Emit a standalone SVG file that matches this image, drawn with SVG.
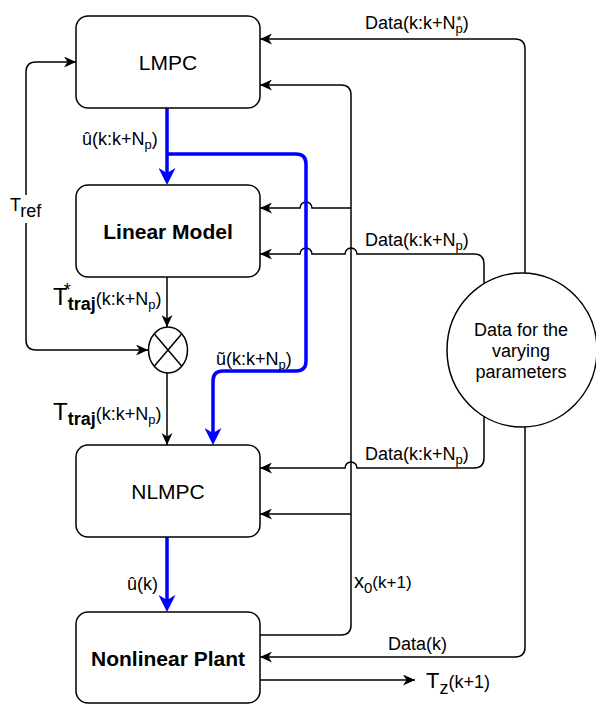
<svg xmlns="http://www.w3.org/2000/svg" width="596" height="704" viewBox="0 0 596 704">
<defs>
<style>
.box{fill:#fff;stroke:#000;stroke-width:1.5}
.ln{fill:none;stroke:#000;stroke-width:1.5}
.bl{fill:none;stroke:#0000ff;stroke-width:3.5}
text{font-family:"Liberation Sans",Arial,sans-serif;fill:#000;font-size:18px}
.nt{font-size:21px;text-anchor:middle}
.b{font-weight:bold}
.sub{font-size:13px}
.ct{font-size:18px;text-anchor:middle}
</style>
<marker id="ah" viewBox="0 0 12 11" refX="12" refY="5.5" markerWidth="12" markerHeight="11" markerUnits="userSpaceOnUse" orient="auto-start-reverse">
<path d="M0,0 L12,5.5 L0,11 L3.5,5.5 Z" fill="#000"/>
</marker>
<marker id="bh" viewBox="0 0 17 17" refX="11" refY="8.5" markerWidth="17" markerHeight="17" markerUnits="userSpaceOnUse" orient="auto">
<path d="M0,0 L17,8.5 L0,17 L5,8.5 Z" fill="#0000ff"/>
</marker>
</defs>
<rect width="596" height="704" fill="#fff"/>

<g id="connectors">
<path class="ln" d="M148,350 H36 Q26,350 26,340 V72 Q26,62 36,62 H76" marker-start="url(#ah)" marker-end="url(#ah)"/>
<path class="ln" d="M167,277 V327" marker-end="url(#ah)"/>
<path class="ln" d="M167,373 V445" marker-end="url(#ah)"/>
<path class="ln" d="M260,635 H341 Q351,635 351,625 V95 Q351,85 341,85 H260" marker-end="url(#ah)"/>
<path class="ln" d="M351,208 H312 A6,6 0 0 0 300,208 H260" marker-end="url(#ah)"/>
<path class="ln" d="M351,514 H260" marker-end="url(#ah)"/>
<path class="ln" d="M525,273 V49 Q525,39 515,39 H260" marker-end="url(#ah)"/>
<path class="ln" d="M484,283.6 V264 Q484,254 474,254 H357 A6,6 0 0 0 345,254 H312 A6,6 0 0 0 300,254 H260" marker-end="url(#ah)"/>
<path class="ln" d="M484,416.4 V458 Q484,468 474,468 H357 A6,6 0 0 0 345,468 H260" marker-end="url(#ah)"/>
<path class="ln" d="M525,427 V647 Q525,657 515,657 H260" marker-end="url(#ah)"/>
<path class="ln" d="M260,680 H415" marker-end="url(#ah)"/>
<path class="bl" d="M167,108 V179" marker-end="url(#bh)"/>
<path class="bl" d="M167,154 H296 Q306,154 306,164 V361 Q306,371 296,371 H223 Q213,371 213,381 V439" marker-end="url(#bh)"/>
<path class="bl" d="M167,537 V606" marker-end="url(#bh)"/>
</g>

<g id="edge-labels">
<rect x="8" y="195" width="38" height="28" fill="#fff"/>
<text x="10" y="211">T<tspan dy="6">ref</tspan></text>
<text x="82" y="145">û(k:k+N<tspan class="sub" dy="4">p</tspan><tspan dy="-4">)</tspan></text>
<text x="216" y="365">ũ(k:k+N<tspan class="sub" dy="4">p</tspan><tspan dy="-4">)</tspan></text>
<text x="53" y="305"><tspan font-size="24">T</tspan><tspan dx="-4" dy="-9">*</tspan><tspan class="b" dx="-3" dy="14">traj</tspan><tspan dy="-5">(k:k+N</tspan><tspan class="sub" dy="4">p</tspan><tspan dy="-4">)</tspan></text>
<text x="53" y="420"><tspan font-size="24">T</tspan><tspan class="b" dy="5">traj</tspan><tspan dy="-5">(k:k+N</tspan><tspan class="sub" dy="4">p</tspan><tspan dy="-4">)</tspan></text>
<text x="127" y="590">û(k)</text>
<text x="365" y="29">Data(k:k+N<tspan class="sub" dx="1" dy="-4">*</tspan><tspan class="sub" dx="-6" dy="8">p</tspan><tspan dy="-4">)</tspan></text>
<text x="365" y="246">Data(k:k+N<tspan class="sub" dy="4">p</tspan><tspan dy="-4">)</tspan></text>
<text x="365" y="460">Data(k:k+N<tspan class="sub" dy="4">p</tspan><tspan dy="-4">)</tspan></text>
<text x="388" y="650">Data(k)</text>
<text x="354" y="588"><tspan font-size="20">x</tspan><tspan font-size="15" dy="5">0</tspan><tspan font-size="17" dy="-5">(k+1)</tspan></text>
<text x="426" y="688"><tspan font-size="22">T</tspan><tspan dy="6">z</tspan><tspan dy="-6">(k+1)</tspan></text>
</g>

<g id="LMPC">
<rect class="box" x="76" y="16" width="184" height="92" rx="12"/>
<text class="nt" x="168" y="70">LMPC</text>
</g>
<g id="LinearModel">
<rect class="box" x="76" y="185" width="184" height="92" rx="12"/>
<text class="nt b" x="168" y="239">Linear Model</text>
</g>
<g id="SumJunction">
<ellipse class="box" cx="168" cy="350" rx="19.5" ry="23"/>
<path class="ln" d="M154.2,333.7 L181.8,366.3 M181.8,333.7 L154.2,366.3"/>
</g>
<g id="NLMPC">
<rect class="box" x="76" y="445" width="184" height="92" rx="12"/>
<text class="nt" x="168" y="499">NLMPC</text>
</g>
<g id="NonlinearPlant">
<rect class="box" x="76" y="612" width="184" height="91" rx="12"/>
<text class="nt b" x="168" y="666">Nonlinear Plant</text>
</g>
<g id="DataVarying">
<ellipse class="box" cx="522" cy="350" rx="75" ry="77"/>
<text class="ct" x="521" y="336">Data for the</text>
<text class="ct" x="521" y="357">varying</text>
<text class="ct" x="521" y="378">parameters</text>
</g>
</svg>
